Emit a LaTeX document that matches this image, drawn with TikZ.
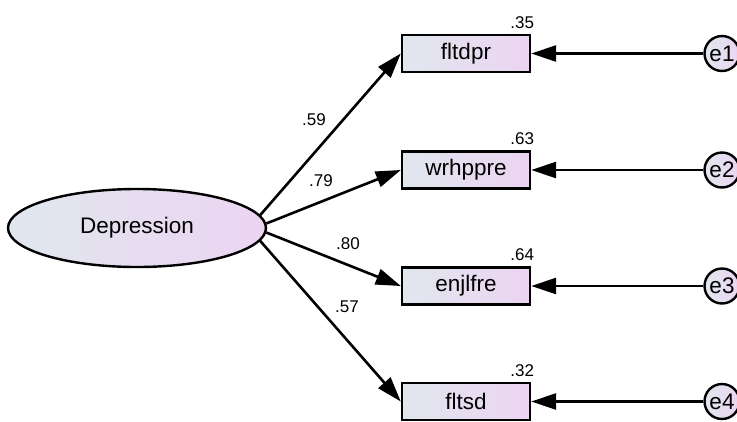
\documentclass[tikz,border=0pt]{standalone}
\usepackage{fontspec}
\setmainfont{Liberation Sans}
\usetikzlibrary{arrows.meta,shapes.geometric}

\definecolor{fillL}{RGB}{224,231,238}
\definecolor{fillR}{RGB}{236,212,242}

\tikzset{
  shade2/.style={left color=fillL, right color=fillR, shading angle=90},
  latent/.style={ellipse, draw, line width=2.4pt, shade2,
    minimum width=258pt, minimum height=78pt, inner sep=0pt,
    font=\fontsize{22.5}{25}\selectfont},
  observed/.style={rectangle, draw, line width=2.4pt, shade2,
    minimum width=128pt, minimum height=37pt, inner sep=0pt,
    font=\fontsize{22.5}{25}\selectfont},
  errnode/.style={circle, draw, line width=2.4pt, shade2,
    minimum size=35pt, inner sep=0pt,
    font=\fontsize{22.5}{25}\selectfont},
  coef/.style={inner sep=0pt, font=\fontsize{17}{19}\selectfont},
  path/.style={line width=2.6pt, -{Triangle[length=25pt,width=16pt]}},
}

\begin{document}
\begin{tikzpicture}[x=1pt, y=-1pt]
  \useasboundingbox (0,0) rectangle (737,421);

  % latent factor
  \node[latent] (dep) at (137,228) {Depression};

  % indicators
  \node[observed] (b1) at (466,53.5) {fltdpr};
  \node[observed] (b2) at (466,170)  {wrhppre};
  \node[observed] (b3) at (466,286)  {enjlfre};
  \node[observed] (b4) at (466,401.5) {fltsd};

  % error terms
  \node[errnode] (e1) at (722,53.5) {e1};
  \node[errnode] (e2) at (722,170)  {e2};
  \node[errnode] (e3) at (722,286)  {e3};
  \node[errnode] (e4) at (722,401.5) {e4};

  % squared multiple correlations
  \node[coef, anchor=south east] (r1) at ([xshift=3pt,yshift=5pt]b1.north east) {.35};
  \node[coef, anchor=south east] (r2) at ([xshift=3pt,yshift=5pt]b2.north east) {.63};
  \node[coef, anchor=south east] (r3) at ([xshift=3pt,yshift=5pt]b3.north east) {.64};
  \node[coef, anchor=south east] (r4) at ([xshift=3pt,yshift=5pt]b4.north east) {.32};

  % loadings
  \draw[path] (dep.6.8)  -- (b1.west);
  \draw[path] (dep.2.5)  -- (b2.west);
  \draw[path] (dep.-2.5) -- (b3.west);
  \draw[path] (dep.-6.8) -- (b4.west);

  \node[coef] (l1) at (314,120) {.59};
  \node[coef] (l2) at (321,181) {.79};
  \node[coef] (l3) at (348,244) {.80};
  \node[coef] (l4) at (347,307) {.57};

  % error paths
  \draw[path] (e1) -- (b1);
  \draw[path] (e2) -- (b2);
  \draw[path] (e3) -- (b3);
  \draw[path] (e4) -- (b4);
\end{tikzpicture}
\end{document}
